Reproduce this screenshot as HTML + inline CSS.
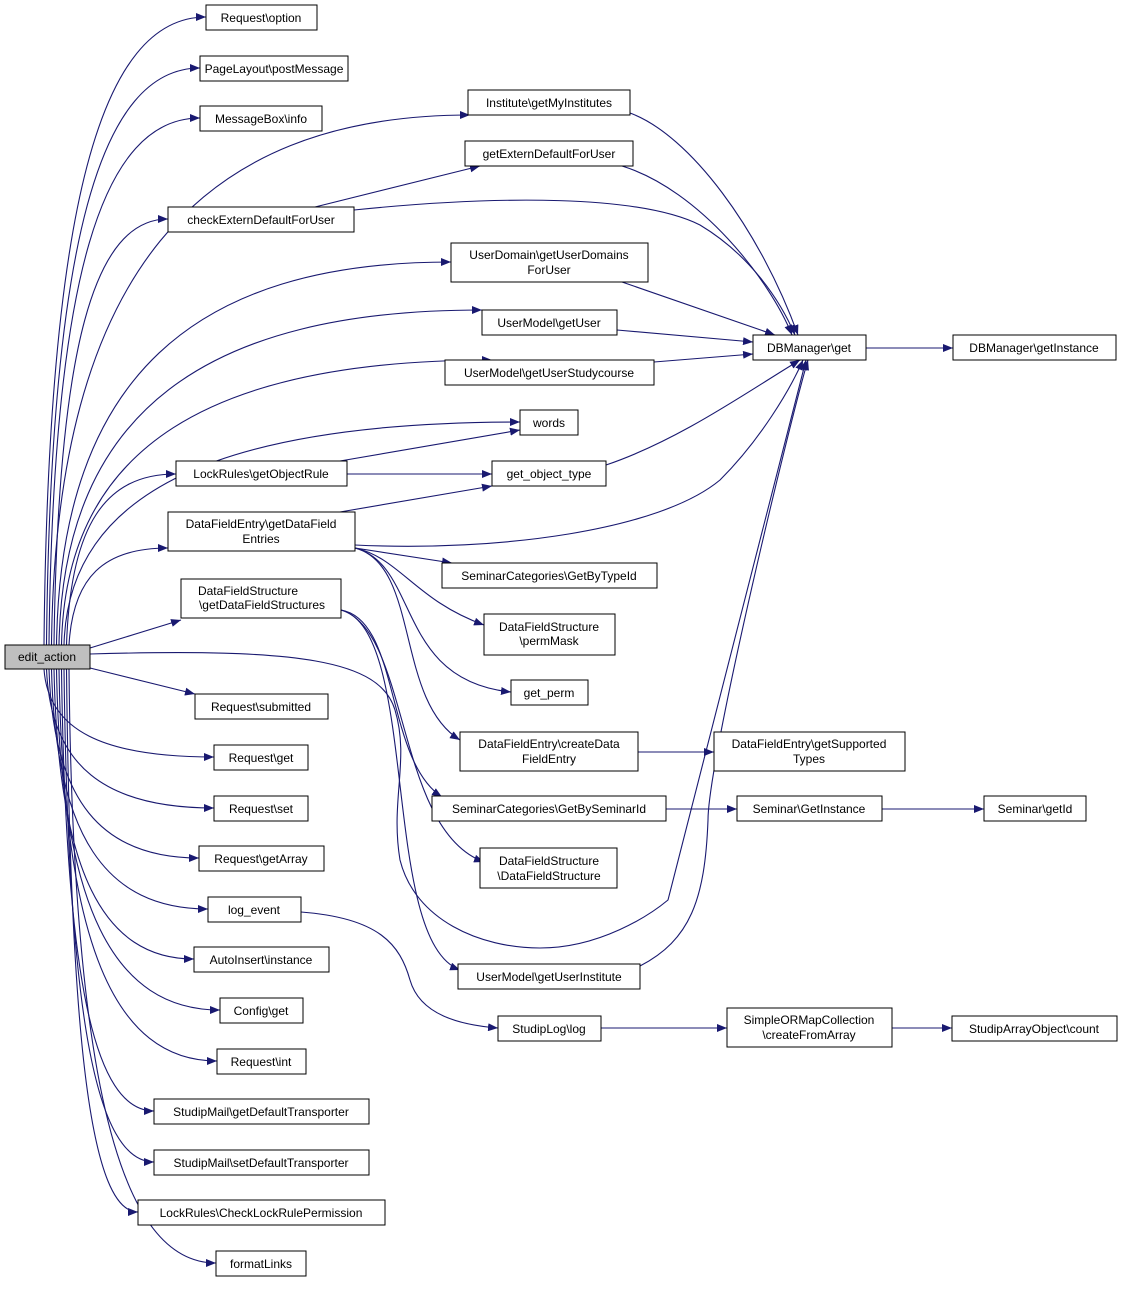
<!DOCTYPE html>
<html><head><meta charset="utf-8"><style>
html,body{margin:0;padding:0;background:#fff;}
svg text{font-family:"Liberation Sans",Arial,sans-serif;font-size:12px;fill:#000;}
</style></head><body>
<svg id="g" width="1123" height="1284" viewBox="0 0 1123 1284" xmlns="http://www.w3.org/2000/svg">
<defs><marker id="a" markerWidth="11" markerHeight="8" refX="10" refY="4" orient="auto" markerUnits="userSpaceOnUse"><path d="M0,0 L10,4 L0,8 Z" fill="#191970"/></marker></defs>
<g id="edges" fill="none" stroke="#191970" stroke-width="1.1">
<path marker-end="url(#a)" d="M315,207 L480,166"/>
<path marker-end="url(#a)" d="M354,210 C500,195 640,195 700,225 C750,255 780,300 795,335"/>
<path marker-end="url(#a)" d="M630,113 C690,135 760,230 798,335"/>
<path marker-end="url(#a)" d="M622,166 C700,190 770,280 792,335"/>
<path marker-end="url(#a)" d="M622,282 L775,335"/>
<path marker-end="url(#a)" d="M617,330 L753,342"/>
<path marker-end="url(#a)" d="M654,362 L753,354"/>
<path marker-end="url(#a)" d="M866,348 L953,348"/>
<path marker-end="url(#a)" d="M340,461 L520,430"/>
<path marker-end="url(#a)" d="M347,474 L492,474"/>
<path marker-end="url(#a)" d="M606,465 C680,440 750,390 800,360"/>
<path marker-end="url(#a)" d="M340,512 L492,486"/>
<path marker-end="url(#a)" d="M355,545 C500,552 660,530 720,480 C760,440 790,390 803,360"/>
<path marker-end="url(#a)" d="M355,548 L452,563"/>
<path marker-end="url(#a)" d="M355,548 C400,558 415,600 484,625"/>
<path marker-end="url(#a)" d="M355,548 C420,565 395,680 511,692"/>
<path marker-end="url(#a)" d="M355,548 C420,565 395,700 460,740"/>
<path marker-end="url(#a)" d="M341,610 C400,620 385,760 442,797"/>
<path marker-end="url(#a)" d="M341,610 C410,630 395,830 484,862"/>
<path marker-end="url(#a)" d="M341,610 C420,630 380,940 460,970"/>
<path marker-end="url(#a)" d="M90,654 C300,648 380,660 395,710 C410,760 390,800 400,860 C415,920 480,948 540,948 C600,948 650,915 668,900 L806,360"/>
<path marker-end="url(#a)" d="M640,966 C690,940 705,900 708,820 C708,760 790,420 808,360"/>
<path marker-end="url(#a)" d="M638,752 L714,752"/>
<path marker-end="url(#a)" d="M666,809 L737,809"/>
<path marker-end="url(#a)" d="M882,809 L984,809"/>
<path marker-end="url(#a)" d="M301,912 C380,918 400,945 410,980 C420,1015 460,1025 498,1028"/>
<path marker-end="url(#a)" d="M601,1028 L727,1028"/>
<path marker-end="url(#a)" d="M892,1028 L952,1028"/>
<path marker-end="url(#a)" d="M90,648 L181,620"/>
<path marker-end="url(#a)" d="M90,668 L195,694"/>
</g>
<g fill="#fff" stroke="#000" stroke-width="1">
<rect x="5" y="645" width="85" height="24" fill="#bfbfbf"/>
<rect x="206" y="5" width="111" height="25"/>
<rect x="200" y="56" width="148" height="25"/>
<rect x="200" y="106" width="122" height="25"/>
<rect x="468" y="90" width="162" height="25"/>
<rect x="465" y="141" width="168" height="25"/>
<rect x="168" y="207" width="186" height="25"/>
<rect x="451" y="243" width="197" height="39"/>
<rect x="482" y="310" width="135" height="25"/>
<rect x="753" y="335" width="113" height="25"/>
<rect x="953" y="335" width="163" height="25"/>
<rect x="445" y="360" width="209" height="25"/>
<rect x="520" y="410" width="58" height="25"/>
<rect x="176" y="461" width="171" height="25"/>
<rect x="492" y="461" width="114" height="25"/>
<rect x="168" y="512" width="187" height="39"/>
<rect x="442" y="563" width="215" height="25"/>
<rect x="181" y="579" width="160" height="39"/>
<rect x="484" y="614" width="131" height="41"/>
<rect x="511" y="680" width="77" height="25"/>
<rect x="195" y="694" width="133" height="25"/>
<rect x="460" y="732" width="178" height="39"/>
<rect x="714" y="732" width="191" height="39"/>
<rect x="214" y="745" width="94" height="25"/>
<rect x="214" y="796" width="94" height="25"/>
<rect x="432" y="796" width="234" height="25"/>
<rect x="737" y="796" width="145" height="25"/>
<rect x="984" y="796" width="102" height="25"/>
<rect x="199" y="846" width="125" height="25"/>
<rect x="480" y="848" width="137" height="40"/>
<rect x="208" y="897" width="93" height="25"/>
<rect x="194" y="947" width="135" height="25"/>
<rect x="458" y="964" width="182" height="25"/>
<rect x="220" y="998" width="83" height="25"/>
<rect x="498" y="1016" width="103" height="25"/>
<rect x="727" y="1008" width="165" height="39"/>
<rect x="952" y="1016" width="165" height="25"/>
<rect x="217" y="1049" width="89" height="25"/>
<rect x="154" y="1099" width="215" height="25"/>
<rect x="154" y="1150" width="215" height="25"/>
<rect x="138" y="1200" width="247" height="25"/>
<rect x="216" y="1251" width="90" height="25"/>
</g>
<g text-anchor="middle">
<text x="47" y="661">edit_action</text>
<text x="261" y="22">Request\option</text>
<text x="274" y="73">PageLayout\postMessage</text>
<text x="261" y="123">MessageBox\info</text>
<text x="549" y="107">Institute\getMyInstitutes</text>
<text x="549" y="158">getExternDefaultForUser</text>
<text x="261" y="224">checkExternDefaultForUser</text>
<text x="549" y="259">UserDomain\getUserDomains</text>
<text x="549" y="274">ForUser</text>
<text x="549" y="327">UserModel\getUser</text>
<text x="809" y="352">DBManager\get</text>
<text x="1034" y="352">DBManager\getInstance</text>
<text x="549" y="377">UserModel\getUserStudycourse</text>
<text x="549" y="427">words</text>
<text x="261" y="478">LockRules\getObjectRule</text>
<text x="549" y="478">get_object_type</text>
<text x="261" y="528">DataFieldEntry\getDataField</text>
<text x="261" y="543">Entries</text>
<text x="549" y="580">SeminarCategories\GetByTypeId</text>
<text x="248" y="595">DataFieldStructure</text>
<text x="262" y="609">\getDataFieldStructures</text>
<text x="549" y="631">DataFieldStructure</text>
<text x="549" y="645">\permMask</text>
<text x="549" y="697">get_perm</text>
<text x="261" y="711">Request\submitted</text>
<text x="549" y="748">DataFieldEntry\createData</text>
<text x="549" y="763">FieldEntry</text>
<text x="809" y="748">DataFieldEntry\getSupported</text>
<text x="809" y="763">Types</text>
<text x="261" y="762">Request\get</text>
<text x="261" y="813">Request\set</text>
<text x="549" y="813">SeminarCategories\GetBySeminarId</text>
<text x="809" y="813">Seminar\GetInstance</text>
<text x="1035" y="813">Seminar\getId</text>
<text x="261" y="863">Request\getArray</text>
<text x="549" y="865">DataFieldStructure</text>
<text x="549" y="880">\DataFieldStructure</text>
<text x="254" y="914">log_event</text>
<text x="261" y="964">AutoInsert\instance</text>
<text x="549" y="981">UserModel\getUserInstitute</text>
<text x="261" y="1015">Config\get</text>
<text x="549" y="1033">StudipLog\log</text>
<text x="809" y="1024">SimpleORMapCollection</text>
<text x="809" y="1039">\createFromArray</text>
<text x="1034" y="1033">StudipArrayObject\count</text>
<text x="261" y="1066">Request\int</text>
<text x="261" y="1116">StudipMail\getDefaultTransporter</text>
<text x="261" y="1167">StudipMail\setDefaultTransporter</text>
<text x="261" y="1217">LockRules\CheckLockRulePermission</text>
<text x="261" y="1268">formatLinks</text>
</g>
</svg>
<script>
(function(){
var up=[[206,17],[200,68],[200,118],[470,115],[168,219],[451,262],[482,310],[492,360],[520,422],[176,474],[168,548]];
var dn=[[214,757],[214,808],[199,858],[208,909],[194,959],[220,1010],[217,1061],[154,1111],[154,1162],[138,1212],[216,1263]];
var g=document.getElementById('edges'),ns='http://www.w3.org/2000/svg';
function add(d){var p=document.createElementNS(ns,'path');p.setAttribute('d',d);p.setAttribute('marker-end','url(#a)');g.appendChild(p);}
up.forEach(function(t,i){var sx=44+i*2.5,sy=645,tx=t[0],ty=t[1];
 add('M'+sx+','+sy+' C'+(sx+4)+','+(ty+(sy-ty)*0.3)+' '+(sx+(tx-sx)*0.35)+','+ty+' '+tx+','+ty);});
dn.forEach(function(t,i){var sx=44+i*2.5,sy=669,tx=t[0],ty=t[1];
 add('M'+sx+','+sy+' C'+(sx+4)+','+(ty-(ty-sy)*0.3)+' '+(sx+(tx-sx)*0.35)+','+ty+' '+tx+','+ty);});
})();
</script>
</body></html>
